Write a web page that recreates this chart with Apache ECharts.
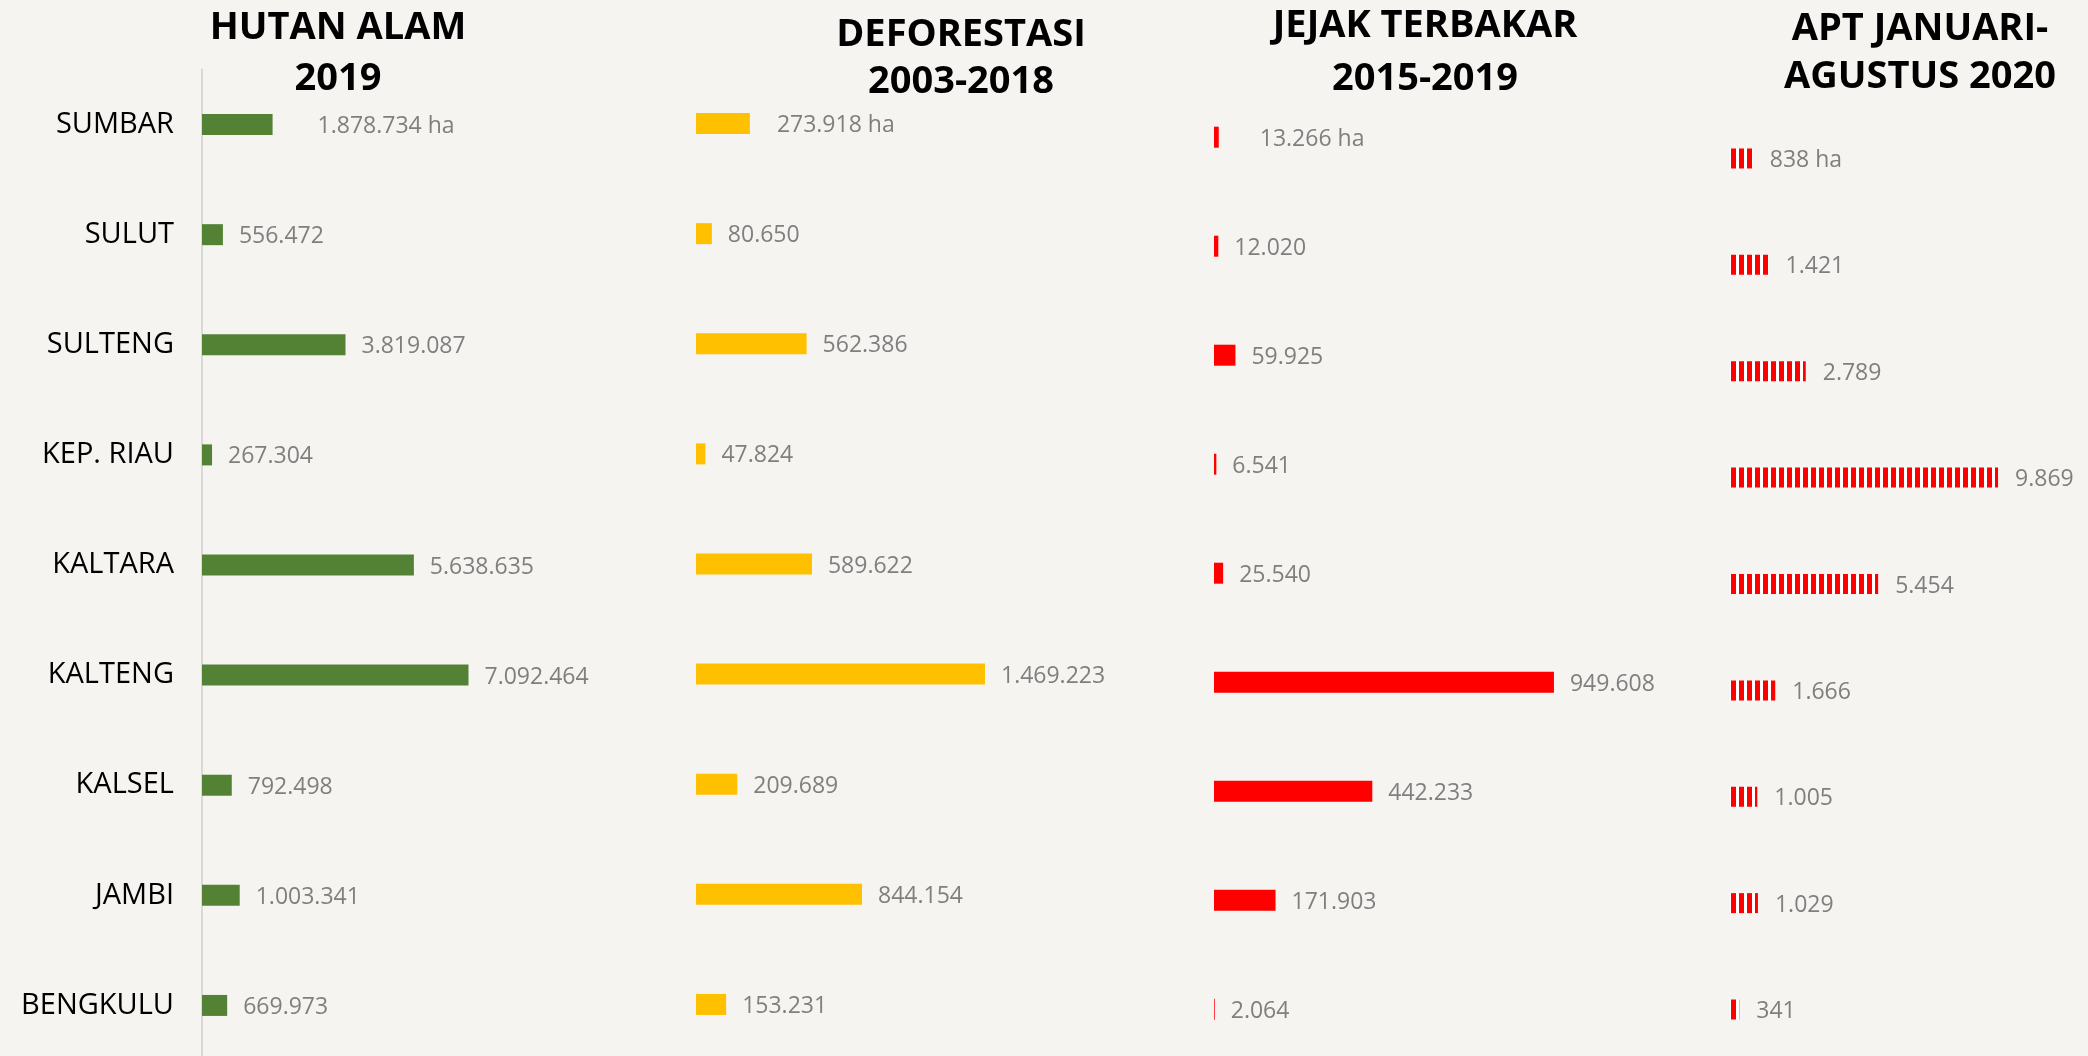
<!DOCTYPE html>
<html>
<head>
<meta charset="utf-8">
<title>Hutan, Deforestasi, Jejak Terbakar, APT</title>
<script src="https://cdn.jsdelivr.net/npm/echarts@6.0.0/dist/echarts.min.js"></script>
<style>
  html, body { margin: 0; padding: 0; background: #f6f4f1; }
  #chart { width: 2088px; height: 1056px; }
</style>
</head>
<body>
<div id="chart"></div>
<script>
  // data
  const categories = ['SUMBAR', 'SULUT', 'SULTENG', 'KEP. RIAU', 'KALTARA', 'KALTENG', 'KALSEL', 'JAMBI', 'BENGKULU'];
  const hutanAlam = [1878734, 556472, 3819087, 267304, 5638635, 7092464, 792498, 1003341, 669973];
  const deforestasi = [273918, 80650, 562386, 47824, 589622, 1469223, 209689, 844154, 153231];
  const jejakTerbakar = [13266, 12020, 59925, 6541, 25540, 949608, 442233, 171903, 2064];
  const apt = [838, 1421, 2789, 9869, 5454, 1666, 1005, 1029, 341];
  const titles = [
    ['HUTAN ALAM', '2019'],
    ['DEFORESTASI', '2003-2018'],
    ['JEJAK TERBAKAR', '2015-2019'],
    ['APT JANUARI-', 'AGUSTUS 2020']
  ];

  const FONT = '"Open Sans", "Noto Sans", sans-serif';

  // 1.878.734 style
  function fmt(v) {
    return String(v).replace(/\B(?=(\d{3})+(?!\d))/g, '.');
  }

  // red / white vertical stripes for the APT bars
  function stripes() {
    let c = document.createElement('canvas');
    c.width = 8;
    c.height = 4;
    let ctx = c.getContext('2d');
    ctx.fillStyle = '#ffffff';
    ctx.fillRect(0, 0, 8, 4);
    ctx.fillStyle = '#ff0000';
    ctx.fillRect(3, 0, 5, 4);
    return c;
  }

  const panels = [
    {data: hutanAlam, color: '#548235', left: 202, top: 69.5, height: 991, width: 300.6, max: 8000000, bar: 21, gap: 16, firstGap: 45, title: [338, 28, 79]},
    {data: deforestasi, color: '#ffc000', left: 696, top: 68.5, height: 991, width: 314.7, max: 1600000, bar: 21, gap: 16, firstGap: 27, title: [961, 35, 82]},
    {data: jejakTerbakar, color: '#ff0000', left: 1214, top: 82.7, height: 981, width: 358, max: 1000000, bar: 21, gap: 16, firstGap: 41, title: [1425, 26, 79]},
    {data: apt, color: {image: stripes(), repeat: 'repeat'}, left: 1730, top: 105.3, height: 957.4, width: 271.6, max: 10000, bar: 20, gap: 17, firstGap: 17, title: [1920, 29, 77]}
  ];

  let myChart = echarts.init(document.getElementById('chart'));

  let grid = [], xAxis = [], yAxis = [], series = [], graphic = [];
  panels.forEach(function (p, i) {
    grid.push({left: p.left, top: p.top, width: p.width, height: p.height, containLabel: false, outerBoundsMode: 'none'});
    xAxis.push({gridIndex: i, type: 'value', min: 0, max: p.max, show: false});
    yAxis.push({
      gridIndex: i,
      type: 'category',
      inverse: true,
      data: categories,
      axisTick: {show: false},
      splitLine: {show: false},
      axisLine: {show: i === 0, lineStyle: {color: '#d9d9d9', width: 2}},
      axisLabel: {show: i === 0, margin: 28, color: '#000', fontSize: 29, fontFamily: FONT}
    });
    series.push({
      type: 'bar',
      xAxisIndex: i,
      yAxisIndex: i,
      barWidth: p.bar,
      itemStyle: {color: p.color},
      label: {
        show: true,
        position: 'right',
        distance: p.gap,
        offset: [0, 2],
        color: '#7f7f7f',
        fontSize: 23,
        fontFamily: FONT,
        formatter: function (d) {
          return fmt(d.value) + (d.dataIndex === 0 ? ' ha' : '');
        }
      },
      data: p.data.map(function (v, k) {
        return k === 0 ? {value: v, label: {distance: p.firstGap}} : v;
      })
    });
    // two-line title above each panel
    titles[i].forEach(function (line, n) {
      graphic.push({
        type: 'text',
        x: p.title[0],
        y: p.title[1 + n],
        style: {
          text: line,
          fill: '#000',
          font: 'bold 38px ' + FONT,
          align: 'center',
          verticalAlign: 'middle'
        }
      });
    });
  });

  myChart.setOption({
    backgroundColor: '#f6f4f1',
    animation: false,
    grid: grid,
    xAxis: xAxis,
    yAxis: yAxis,
    series: series,
    graphic: graphic
  });
</script>
</body>
</html>
